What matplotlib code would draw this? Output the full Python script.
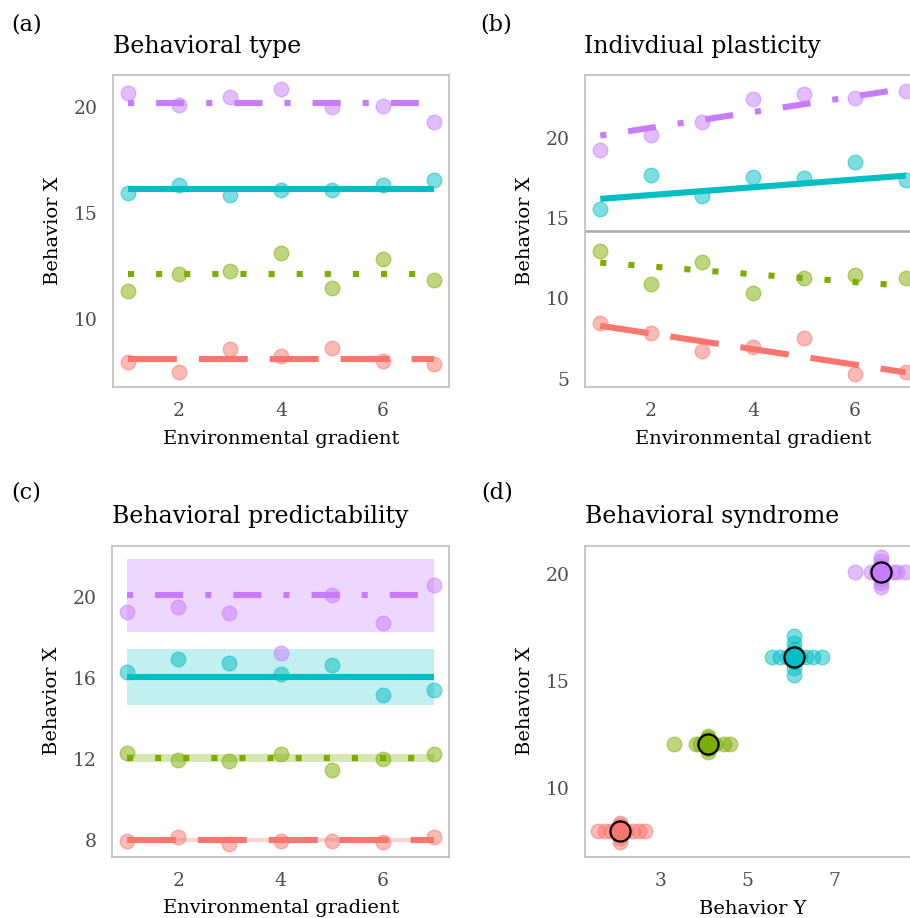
import numpy as np
import matplotlib
matplotlib.use("Agg")
import matplotlib.pyplot as plt

plt.rcParams['font.family'] = ['DejaVu Serif']

# ---------------- data ----------------
groups = ["g1", "g2", "g3", "g4"]
colors = ["#F8766D", "#7CAE00", "#00BFC4", "#C77CFF"]
env = [1, 2, 3, 4, 5, 6, 7]

# (a) Behavioral type
a_red = [7.94, 7.50, 8.55, 8.23, 8.63, 8.00, 7.88]
a_green = [11.31, 12.13, 12.25, 13.09, 11.44, 12.83, 11.84]
a_teal = [15.94, 16.33, 15.83, 16.06, 16.06, 16.30, 16.56]
a_purple = [20.63, 20.10, 20.44, 20.83, 19.97, 20.03, 19.27]
a_fit = [8.09, 12.13, 16.14, 20.19]

# (b) Individual plasticity
b_red = [8.44, 7.85, 6.73, 6.98, 7.50, 5.31, 5.42]
b_green = [12.96, 10.90, 12.27, 10.31, 11.29, 11.46, 11.25]
b_teal = [15.56, 17.67, 16.40, 17.58, 17.52, 18.54, 17.40]
b_purple = [19.27, 20.17, 20.98, 22.42, 22.75, 22.52, 22.92]
b_fit_start = [8.29, 12.23, 16.21, 20.16]
b_fit_end = [5.38, 10.78, 17.66, 23.10]
b_hline = 14.22

# (c) Behavioral predictability
c_red = [7.99, 8.19, 7.83, 7.99, 7.96, 7.94, 8.16]
c_green = [12.32, 11.97, 11.89, 12.24, 11.48, 12.02, 12.24]
c_teal = [16.30, 16.92, 16.76, 16.22, 16.63, 15.18, 15.43]
c_purple = [19.26, 19.49, 19.23, 17.25, 20.08, 18.73, 20.59]
c_fit = [8.03, 12.06, 16.05, 20.08]
c_lo = [7.91, 11.86, 14.65, 18.27]
c_hi = [8.11, 12.24, 17.45, 21.86]

# (d) Behavioral syndrome
d_mean_y = [2.05, 4.08, 6.07, 8.07]
d_mean_x = [8.00, 12.07, 16.13, 20.10]
d_spread_y = [
    [1.55, 1.70, 1.85, 2.20, 2.35, 2.50, 2.62],
    [3.30, 3.80, 3.90, 4.00, 4.25, 4.45, 4.60],
    [5.55, 5.75, 5.90, 6.20, 6.35, 6.50, 6.72],
    [7.48, 7.85, 7.95, 8.20, 8.35, 8.45, 8.64],
]
d_spread_x = [
    [7.50, 7.70, 7.90, 8.05, 8.15, 8.30, 8.40],
    [11.70, 11.85, 12.00, 12.10, 12.20, 12.35, 12.45],
    [15.30, 15.60, 15.90, 16.30, 16.50, 16.80, 17.10],
    [19.40, 19.60, 19.80, 20.20, 20.40, 20.60, 20.80],
]

a_series = [a_red, a_green, a_teal, a_purple]
b_series = [b_red, b_green, b_teal, b_purple]
c_series = [c_red, c_green, c_teal, c_purple]

# line styles: longdash, dotted, solid, dotdash (in units of linewidth)
dash_styles = [(0, (8, 3.6)), (0, (1, 3.6)), "solid", (0, (1, 3.6, 4.6, 3.6))]
ribbon_alpha = [0.3, 0.3, 0.24, 0.3]

# ---------------- figure ----------------
W, H = 910, 918
fig = plt.figure(figsize=(W / 100, H / 100), dpi=100)

def ax_at(left, top, right, bottom):
    return fig.add_axes([left / W, 1 - bottom / H, (right - left) / W, (bottom - top) / H])

frame_col = "#C4C4C4"
tick_col = "#4D4D4D"
LW = 4.4
PT_S = 110

def style(ax, xlim, ylim, xticks, yticks):
    ax.set_xlim(*xlim)
    ax.set_ylim(*ylim)
    ax.set_xticks(xticks)
    ax.set_yticks(yticks)
    ax.tick_params(length=0, pad=11, labelsize=13.5, colors=tick_col)
    for s in ax.spines.values():
        s.set_color(frame_col)
        s.set_linewidth(1.3)
    ax.set_facecolor("white")

def fline(ax, xs, ys, col, ls):
    ax.plot(xs, ys, color=col, lw=LW, linestyle=ls, solid_capstyle="butt",
            dash_capstyle="butt", zorder=3)

def pts(ax, xs, ys, col, s=PT_S, z=2):
    ax.scatter(xs, ys, s=s, color=col, alpha=0.5, edgecolors=col, linewidths=1.0, zorder=z)

# (a)
axA = ax_at(113, 75, 449, 387)
for ser, lvl, col, ls in zip(a_series, a_fit, colors, dash_styles):
    pts(axA, env, ser, col)
    fline(axA, [env[0], env[-1]], [lvl, lvl], col, ls)
style(axA, (0.7, 7.3), (6.78, 21.5), [2, 4, 6], [10, 15, 20])

# (b)
axB = ax_at(585, 75, 921, 387)
axB.axhline(b_hline, color="#AAAAAA", lw=1.8, zorder=1)
for ser, y0, y1, col, ls in zip(b_series, b_fit_start, b_fit_end, colors, dash_styles):
    pts(axB, env, ser, col)
    fline(axB, [env[0], env[-1]], [y0, y1], col, ls)
style(axB, (0.7, 7.3), (4.47, 23.94), [2, 4, 6], [5, 10, 15, 20])

# (c)
axC = ax_at(112, 546, 449, 857)
for lo, hi, col, al in zip(c_lo, c_hi, colors, ribbon_alpha):
    axC.fill_between([env[0], env[-1]], [lo, lo], [hi, hi], color=col, alpha=al, lw=0, zorder=1)
for ser, lvl, col, ls in zip(c_series, c_fit, colors, dash_styles):
    pts(axC, env, ser, col)
    fline(axC, [env[0], env[-1]], [lvl, lvl], col, ls)
style(axC, (0.7, 7.3), (7.18, 22.51), [2, 4, 6], [8, 12, 16, 20])

# (d)
axD = ax_at(585, 546, 921, 857)
for my, mx, sy, sx, col in zip(d_mean_y, d_mean_x, d_spread_y, d_spread_x, colors):
    pts(axD, sy, [mx] * len(sy), col)
    pts(axD, [my] * len(sx), sx, col)
    axD.scatter([my], [mx], s=210, color=col, edgecolors="black", linewidths=1.6, zorder=4)
style(axD, (1.245, 9.0), (6.79, 21.32), [3, 5, 7], [10, 15, 20])

# ---------------- texts ----------------
def ftext(x, y, s, **kw):
    fig.text(x / W, 1 - y / H, s, **kw)

for lab, x, y in [("(a)", 11, 24), ("(b)", 480, 24), ("(c)", 11, 492), ("(d)", 481, 492)]:
    ftext(x, y, lab, fontsize=16, ha="left", va="center")

for t, x, y in [("Behavioral type", 113, 53), ("Indivdiual plasticity", 584, 53),
                ("Behavioral predictability", 112, 523), ("Behavioral syndrome", 585, 523)]:
    ftext(x, y, t, fontsize=17, ha="left", va="baseline")

for t, x, y in [("Environmental gradient", 281, 444), ("Environmental gradient", 753, 444),
                ("Environmental gradient", 281, 913), ("Behavior Y", 753, 914)]:
    ftext(x, y, t, fontsize=14, ha="center", va="baseline")

for x, y in [(53, 231), (525, 231), (52, 701), (525, 701)]:
    ftext(x, y, "Behavior X", fontsize=14, ha="center", va="center", rotation=90)

fig.savefig("out.png", dpi=100, facecolor="white")
